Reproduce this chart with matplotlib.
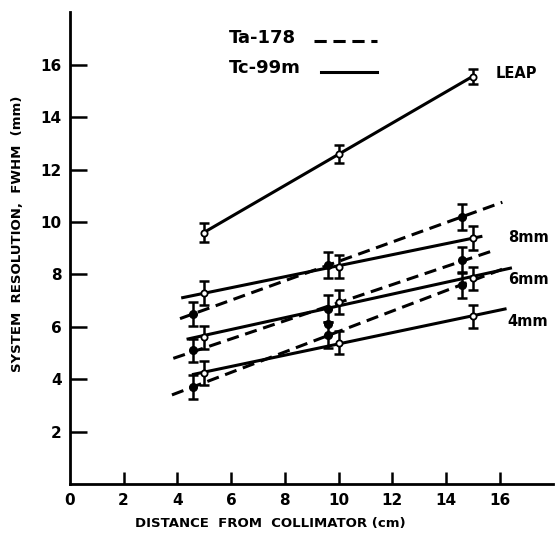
#!/usr/bin/env python3
"""
System resolution vs distance from collimator, Ta-178 and Tc-99m
"""
import numpy as np
import matplotlib
matplotlib.use('Agg')
import matplotlib.pyplot as plt

# Tc-99m (open circles, solid fit lines)
tc_x = [5.0, 10.0, 15.0]
tc_leap = [9.6, 12.6, 15.55]
tc_8mm = [7.3, 8.3, 9.4]
tc_6mm = [5.6, 6.95, 7.85]
tc_4mm = [4.25, 5.4, 6.4]
tc_err_leap = [0.35, 0.35, 0.3]
tc_err = [0.45, 0.45, 0.45]

# Ta-178 (filled circles, dashed fit lines)
ta_x = [4.6, 9.6, 14.6]
ta_8mm = [6.5, 8.35, 10.2]
ta_6mm = [5.1, 6.7, 8.55]
ta_4mm = [3.7, 5.7, 7.6]
ta_err = [0.45, 0.5, 0.5]
ta_extra_x = [9.6]
ta_extra_y = [6.1]

# extent of the fitted lines
fit_span = {
  'leap': (5.0, 15.0),
  'tc8': (4.2, 15.3), 'tc6': (4.4, 16.4), 'tc4': (4.6, 16.2),
  'ta8': (4.1, 16.1), 'ta6': (3.85, 15.7), 'ta4': (3.8, 16.3),
}

x_ticks = [0, 2, 4, 6, 8, 10, 12, 14, 16]
y_ticks = [2, 4, 6, 8, 10, 12, 14, 16]

BOLD = dict(fontweight='bold', family='DejaVu Sans')
DASH = (0, (4.0, 2.2))


def fit_line(ax, x, y, span, dashed):
  k, b = np.polyfit(x, y, 1)
  xs = np.array(span)
  ls = DASH if dashed else '-'
  ax.plot(xs, k * xs + b, color='black', lw=2.2, linestyle=ls, zorder=2)


def points(ax, x, y, err, filled):
  ax.errorbar(x, y, yerr=err, fmt='none', ecolor='black', elinewidth=1.8,
              capsize=3.5, capthick=1.8, zorder=3)
  if filled:
    ax.plot(x, y, 'o', color='black', ms=5.5, zorder=4)
  else:
    ax.plot(x, y, 'o', mfc='white', mec='black', mew=1.3, ms=4.5, zorder=4)


def main():
  fig = plt.figure(figsize=(5.59, 5.35), dpi=100)
  ax = fig.add_axes([0.125, 0.095, 0.865, 0.882])
  ax.set_xlim(0, 18)
  ax.set_ylim(0, 18)

  fit_line(ax, tc_x, tc_leap, fit_span['leap'], False)
  fit_line(ax, tc_x, tc_8mm, fit_span['tc8'], False)
  fit_line(ax, tc_x, tc_6mm, fit_span['tc6'], False)
  fit_line(ax, tc_x, tc_4mm, fit_span['tc4'], False)
  fit_line(ax, ta_x, ta_8mm, fit_span['ta8'], True)
  fit_line(ax, ta_x, ta_6mm, fit_span['ta6'], True)
  fit_line(ax, ta_x, ta_4mm, fit_span['ta4'], True)

  points(ax, tc_x, tc_leap, tc_err_leap, False)
  for ys in (tc_8mm, tc_6mm, tc_4mm):
    points(ax, tc_x, ys, tc_err, False)
  for ys in (ta_8mm, ta_6mm, ta_4mm):
    points(ax, ta_x, ys, ta_err, True)
  ax.plot(ta_extra_x, ta_extra_y, 'o', color='black', ms=5.5, zorder=4)

  # curve labels
  ax.text(15.85, 15.65, 'LEAP', fontsize=10.5, va='center', **BOLD)
  ax.text(16.3, 9.4, '8mm', fontsize=10.5, va='center', **BOLD)
  ax.text(16.3, 7.8, '6mm', fontsize=10.5, va='center', **BOLD)
  ax.text(16.3, 6.2, '4mm', fontsize=10.5, va='center', **BOLD)

  # hand-drawn style legend
  ax.text(0.328, 0.945, 'Ta-178', transform=ax.transAxes, fontsize=13,
          va='center', **BOLD)
  ax.text(0.328, 0.883, 'Tc-99m', transform=ax.transAxes, fontsize=13,
          va='center', **BOLD)
  ax.plot([0.505, 0.635], [0.94, 0.94], transform=ax.transAxes,
          color='black', lw=2.2, linestyle=DASH)
  ax.plot([0.52, 0.635], [0.874, 0.874], transform=ax.transAxes,
          color='black', lw=2.2)

  for side in ('top', 'right'):
    ax.spines[side].set_visible(False)
  for side in ('left', 'bottom'):
    ax.spines[side].set_linewidth(2.0)
  ax.set_xticks(x_ticks)
  ax.set_yticks(y_ticks)
  ax.tick_params(direction='in', width=1.8, labelsize=11, pad=6)
  ax.tick_params(axis='y', length=12)
  ax.tick_params(axis='x', length=9)
  for lbl in ax.get_xticklabels() + ax.get_yticklabels():
    lbl.set_fontweight('bold')
  # no tick mark at the origin
  ax.xaxis.get_major_ticks()[0].tick1line.set_visible(False)

  ax.set_xlabel('DISTANCE  FROM  COLLIMATOR (cm)', fontsize=9.5, **BOLD)
  ax.set_ylabel('SYSTEM  RESOLUTION,  FWHM  (mm)', fontsize=9.5, **BOLD)
  ax.xaxis.set_label_coords(0.415, -0.07)
  ax.yaxis.set_label_coords(-0.095, 0.53)

  fig.savefig('out.png', dpi=100)


if __name__ == '__main__':
  main()
